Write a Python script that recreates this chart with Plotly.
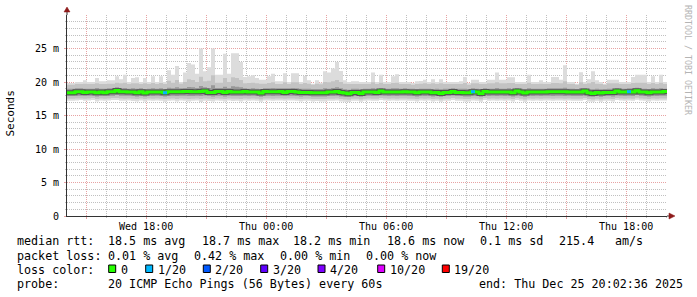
import plotly.graph_objects as go
import pandas as pd

# ---------------- data (milliseconds, one value per 12-minute column) ----------------
t_start = "2025-12-24 14:02:36"
step = "12min"

smoke_max = [
    19.85, 19.85, 20.0, 20.0, 20.25, 20.0, 20.0, 20.6, 20.1, 20.1,
    20.25, 20.25, 20.85, 20.4, 21.1, 20.0, 20.6, 20.7, 20.0, 20.6,
    20.0, 20.85, 20.0, 20.85, 20.0, 21.75, 21.1, 22.4, 20.0, 21.4,
    22.85, 22.6, 21.25, 25.0, 21.6, 22.2, 25.0, 21.1, 21.1, 24.2,
    21.25, 24.3, 24.3, 23.0, 20.75, 20.85, 21.0, 20.6, 20.35, 20.35,
    20.85, 21.25, 20.1, 20.1, 21.3, 20.0, 21.3, 21.3, 20.0, 20.9,
    20.25, 19.75, 20.25, 19.9, 21.6, 21.4, 22.0, 23.0, 21.65, 20.25,
    20.0, 20.1, 20.1, 20.0, 20.0, 20.0, 21.4, 20.0, 21.1, 20.0,
    20.0, 20.85, 21.15, 20.0, 20.0, 20.0, 19.85, 20.1, 20.15, 20.35,
    20.0, 20.4, 20.0, 20.4, 20.0, 20.0, 20.0, 20.0, 20.1, 20.75,
    19.85, 20.35, 20.35, 20.0, 20.0, 20.35, 20.35, 21.4, 20.35, 20.35,
    20.7, 20.7, 20.0, 20.0, 20.0, 21.1, 20.0, 20.0, 20.25, 20.0,
    20.0, 20.75, 20.75, 20.35, 22.5, 20.0, 20.0, 19.75, 21.45, 20.0,
    20.4, 21.6, 20.25, 20.0, 19.75, 20.35, 20.35, 20.35, 20.0, 20.0,
    20.0, 20.75, 21.1, 21.1, 21.1, 20.0, 20.85, 20.0, 21.1, 20.0,
]

smoke_p90 = [
    19.6, 19.6, 19.7, 19.7, 19.75, 19.7, 19.7, 19.8, 19.7, 19.7,
    19.75, 19.75, 19.9, 19.8, 19.9, 19.7, 19.8, 19.8, 19.7, 19.8,
    19.7, 19.85, 19.7, 19.85, 19.7, 20.2, 19.9, 20.3, 19.75, 20.0,
    20.4, 20.3, 20.0, 20.8, 20.1, 20.2, 21.0, 19.9, 19.9, 20.6,
    20.0, 20.7, 20.6, 20.3, 19.8, 19.85, 19.9, 19.8, 19.75, 19.75,
    19.85, 19.95, 19.7, 19.7, 19.95, 19.7, 19.95, 19.95, 19.7, 19.85,
    19.75, 19.6, 19.75, 19.65, 20.0, 19.95, 20.1, 20.3, 20.0, 19.75,
    19.7, 19.7, 19.7, 19.7, 19.7, 19.7, 19.95, 19.7, 19.9, 19.7,
    19.7, 19.85, 19.9, 19.7, 19.7, 19.7, 19.6, 19.7, 19.75, 19.8,
    19.7, 19.8, 19.7, 19.8, 19.7, 19.7, 19.7, 19.7, 19.7, 19.85,
    19.6, 19.8, 19.8, 19.7, 19.7, 19.8, 19.8, 19.95, 19.8, 19.8,
    19.85, 19.85, 19.7, 19.7, 19.7, 19.9, 19.7, 19.7, 19.75, 19.7,
    19.7, 19.85, 19.85, 19.8, 20.1, 19.7, 19.7, 19.6, 19.95, 19.7,
    19.8, 20.0, 19.75, 19.7, 19.6, 19.8, 19.8, 19.8, 19.7, 19.7,
    19.7, 19.85, 19.9, 19.9, 19.9, 19.7, 19.85, 19.7, 19.9, 19.7,
]

smoke_p75 = [
    19.0, 19.0, 19.05, 19.05, 19.0, 19.0, 19.0, 19.1, 19.0, 19.0,
    19.05, 19.05, 19.2, 19.05, 19.1, 19.0, 19.05, 19.0, 19.05, 18.95,
    19.0, 19.05, 19.0, 19.05, 18.95, 19.15, 19.05, 19.2, 19.05, 19.1,
    19.25, 19.2, 19.1, 19.4, 19.2, 19.1, 19.5, 19.1, 19.1, 19.3,
    19.1, 19.35, 19.3, 19.2, 19.05, 19.0, 19.05, 19.0, 18.9, 19.05,
    19.05, 19.1, 19.05, 19.05, 19.05, 19.05, 19.1, 19.05, 19.0, 19.0,
    19.0, 18.95, 18.95, 18.95, 19.05, 19.0, 19.1, 19.2, 19.05, 18.9,
    18.85, 19.0, 19.0, 18.9, 19.0, 19.0, 19.05, 19.0, 19.1, 19.0,
    19.0, 19.05, 19.05, 19.0, 19.05, 19.0, 19.0, 18.95, 19.0, 19.0,
    19.0, 18.95, 19.0, 18.9, 19.0, 19.0, 19.05, 19.0, 19.0, 19.0,
    18.95, 19.05, 19.0, 18.9, 19.05, 19.0, 19.0, 19.1, 19.0, 19.0,
    19.05, 18.95, 19.1, 19.0, 18.9, 19.05, 19.0, 19.0, 19.0, 19.0,
    19.05, 19.05, 19.05, 19.05, 19.15, 19.0, 19.0, 18.95, 19.05, 19.1,
    18.95, 18.9, 19.0, 18.9, 18.95, 19.0, 19.0, 19.1, 19.0, 19.0,
    19.05, 19.05, 19.15, 19.0, 19.0, 18.95, 19.05, 19.0, 19.05, 19.0,
]

median_rtt = [
    18.4, 18.4, 18.55, 18.55, 18.45, 18.5, 18.5, 18.4, 18.5, 18.4,
    18.55, 18.55, 18.75, 18.55, 18.55, 18.5, 18.5, 18.4, 18.55, 18.35,
    18.5, 18.5, 18.5, 18.5, 18.4, 18.55, 18.55, 18.55, 18.55, 18.6,
    18.6, 18.55, 18.55, 18.6, 18.65, 18.45, 18.45, 18.6, 18.6, 18.45,
    18.6, 18.5, 18.5, 18.5, 18.6, 18.5, 18.5, 18.5, 18.35, 18.6,
    18.55, 18.55, 18.55, 18.6, 18.45, 18.6, 18.6, 18.5, 18.45, 18.45,
    18.45, 18.4, 18.4, 18.4, 18.4, 18.5, 18.5, 18.6, 18.45, 18.35,
    18.25, 18.45, 18.45, 18.3, 18.5, 18.5, 18.5, 18.45, 18.65, 18.5,
    18.5, 18.5, 18.5, 18.5, 18.55, 18.5, 18.5, 18.4, 18.5, 18.5,
    18.5, 18.4, 18.45, 18.3, 18.45, 18.45, 18.6, 18.45, 18.45, 18.4,
    18.4, 18.55, 18.5, 18.3, 18.6, 18.5, 18.5, 18.5, 18.5, 18.5,
    18.5, 18.4, 18.65, 18.5, 18.35, 18.5, 18.5, 18.5, 18.5, 18.5,
    18.55, 18.55, 18.55, 18.55, 18.55, 18.5, 18.5, 18.5, 18.5, 18.65,
    18.4, 18.3, 18.45, 18.35, 18.45, 18.45, 18.45, 18.65, 18.5, 18.5,
    18.55, 18.5, 18.7, 18.5, 18.5, 18.4, 18.5, 18.5, 18.5, 18.6,
]

smoke_p25 = [
    17.9, 17.9, 17.95, 17.95, 17.9, 17.95, 17.95, 17.85, 17.95, 17.9,
    17.95, 17.95, 18.05, 17.95, 17.95, 17.95, 17.9, 17.85, 17.95, 17.85,
    17.95, 17.9, 17.95, 17.9, 17.85, 17.9, 17.95, 17.9, 17.95, 17.95,
    17.9, 17.9, 17.95, 17.9, 18.0, 17.9, 17.85, 17.95, 17.95, 17.85,
    17.95, 17.9, 17.9, 17.9, 17.95, 17.9, 17.95, 17.9, 17.8, 17.95,
    17.95, 17.9, 17.95, 17.95, 17.9, 17.95, 17.95, 17.9, 17.85, 17.9,
    17.9, 17.85, 17.85, 17.85, 17.85, 17.9, 17.9, 17.95, 17.85, 17.8,
    17.75, 17.9, 17.9, 17.8, 17.9, 17.95, 17.9, 17.9, 18.0, 17.95,
    17.9, 17.95, 17.9, 17.95, 17.95, 17.9, 17.9, 17.85, 17.95, 17.9,
    17.95, 17.85, 17.9, 17.8, 17.9, 17.9, 18.0, 17.9, 17.9, 17.85,
    17.85, 17.95, 17.9, 17.8, 18.0, 17.9, 17.95, 17.9, 17.95, 17.9,
    17.95, 17.85, 18.0, 17.9, 17.8, 17.95, 17.9, 17.95, 17.9, 17.95,
    17.95, 17.9, 17.95, 17.95, 17.9, 17.95, 17.9, 17.9, 17.9, 18.0,
    17.85, 17.8, 17.9, 17.8, 17.9, 17.9, 17.85, 18.0, 17.95, 17.9,
    17.95, 17.9, 18.05, 17.95, 17.9, 17.85, 17.95, 17.9, 17.95, 17.95,
]

smoke_p10 = [
    17.5, 17.5, 17.55, 17.55, 17.5, 17.55, 17.6, 17.45, 17.55, 17.5,
    17.55, 17.6, 17.6, 17.55, 17.5, 17.55, 17.5, 17.45, 17.55, 17.45,
    17.55, 17.5, 17.55, 17.5, 17.45, 17.5, 17.55, 17.45, 17.55, 17.5,
    17.45, 17.5, 17.55, 17.45, 17.55, 17.5, 17.45, 17.55, 17.5, 17.45,
    17.55, 17.5, 17.5, 17.45, 17.55, 17.5, 17.55, 17.5, 17.4, 17.55,
    17.55, 17.5, 17.55, 17.55, 17.5, 17.55, 17.55, 17.5, 17.45, 17.5,
    17.5, 17.45, 17.45, 17.45, 17.45, 17.5, 17.5, 17.55, 17.45, 17.4,
    17.35, 17.5, 17.5, 17.4, 17.5, 17.55, 17.5, 17.5, 17.6, 17.55,
    17.5, 17.55, 17.5, 17.55, 17.55, 17.5, 17.5, 17.45, 17.55, 17.5,
    17.55, 17.45, 17.5, 17.4, 17.5, 17.5, 17.6, 17.5, 17.5, 17.45,
    17.45, 17.55, 17.5, 17.4, 17.6, 17.5, 17.55, 17.5, 17.55, 17.5,
    17.55, 17.45, 17.6, 17.5, 17.4, 17.55, 17.5, 17.55, 17.5, 17.55,
    17.55, 17.5, 17.55, 17.55, 17.5, 17.55, 17.5, 17.5, 17.5, 17.6,
    17.45, 17.4, 17.5, 17.4, 17.5, 17.5, 17.45, 17.6, 17.55, 17.5,
    17.55, 17.5, 17.65, 17.55, 17.5, 17.45, 17.55, 17.5, 17.55, 17.55,
]

smoke_min = [
    17.2, 17.2, 17.25, 17.3, 17.2, 17.25, 17.3, 17.1, 17.25, 17.2,
    17.25, 17.3, 17.3, 17.2, 17.2, 17.25, 17.15, 17.1, 17.25, 17.1,
    17.25, 17.2, 17.25, 17.2, 17.05, 17.2, 17.25, 17.1, 17.25, 17.2,
    17.1, 17.2, 17.25, 17.0, 17.2, 17.15, 17.1, 17.25, 17.2, 17.1,
    17.25, 17.15, 17.2, 17.1, 17.25, 17.2, 17.25, 17.2, 17.05, 17.25,
    17.25, 17.2, 17.25, 17.25, 17.2, 17.25, 17.25, 17.2, 17.1, 17.2,
    17.2, 17.1, 17.15, 17.1, 17.1, 17.2, 17.2, 17.25, 17.1, 17.05,
    17.0, 17.2, 17.2, 17.05, 17.2, 17.25, 17.2, 17.2, 17.3, 17.25,
    17.2, 17.25, 17.2, 17.25, 17.25, 17.2, 17.2, 17.1, 17.25, 17.2,
    17.25, 17.1, 17.2, 17.05, 17.2, 17.2, 17.3, 17.2, 17.2, 17.1,
    17.1, 17.25, 17.2, 17.05, 17.3, 17.2, 17.25, 17.2, 17.25, 17.2,
    17.25, 17.1, 17.3, 17.2, 17.05, 17.25, 17.2, 17.25, 17.2, 17.25,
    17.25, 17.2, 17.25, 17.25, 17.2, 17.25, 17.2, 17.2, 17.2, 17.3,
    17.1, 17.05, 17.2, 17.05, 17.2, 17.2, 17.1, 17.3, 17.25, 17.2,
    17.25, 17.2, 17.35, 17.25, 17.2, 17.1, 17.25, 17.2, 17.25, 17.25,
]

# lost pings (out of 20) per column
loss_pings = [
    0, 0, 0, 0, 0, 0, 0, 0, 0, 0,
    0, 0, 0, 0, 0, 0, 0, 0, 0, 0,
    0, 0, 0, 0, 1, 0, 0, 0, 0, 0,
    0, 0, 0, 0, 0, 0, 0, 0, 0, 0,
    0, 0, 0, 0, 0, 0, 0, 0, 0, 0,
    0, 0, 0, 0, 0, 0, 0, 0, 0, 0,
    0, 0, 0, 0, 0, 0, 0, 0, 0, 0,
    0, 0, 0, 0, 0, 0, 0, 0, 0, 0,
    0, 0, 0, 0, 0, 0, 0, 0, 0, 0,
    0, 0, 0, 0, 0, 0, 0, 0, 0, 0,
    0, 1, 0, 0, 0, 0, 0, 0, 0, 0,
    0, 0, 0, 0, 0, 0, 0, 0, 0, 0,
    0, 0, 0, 0, 0, 0, 0, 0, 0, 0,
    0, 0, 0, 0, 0, 0, 0, 0, 0, 0,
    1, 0, 0, 0, 0, 0, 0, 0, 0, 0,
]

loss_levels = [0, 1, 2, 3, 4, 10, 19]
loss_labels = ["0", "1/20", "2/20", "3/20", "4/20", "10/20", "19/20"]
loss_colors = ["#26ff00", "#00b8ff", "#0059ff", "#5e00ff", "#7e00ff", "#dd00ff", "#ff0000"]

x_tick_times = ["2025-12-24 18:00", "2025-12-25 00:00", "2025-12-25 06:00",
                "2025-12-25 12:00", "2025-12-25 18:00"]
x_tick_labels = ["Wed 18:00", "Thu 00:00", "Thu 06:00", "Thu 12:00", "Thu 18:00"]
y_tick_vals = [0, 5, 10, 15, 20, 25]
y_tick_labels = ["0", "5 m", "10 m", "15 m", "20 m", "25 m"]

legend_rows = [
    [(16.7, "median rtt:"), (107.3, "18.5 ms avg"), (201.7, "18.7 ms max"),
     (292.3, "18.2 ms min"), (386.7, "18.6 ms now"), (479.3, "0.1 ms sd"),
     (558.3, "215.4"), (614.0, "am/s")],
    [(16.7, "packet loss:"), (107.3, "0.01 % avg"), (193.3, "0.42 % max"),
     (279.3, "0.00 % min"), (365.0, "0.00 % now")],
    [(16.7, "loss color:")],
    [(16.7, "probe:"), (107.3, "20 ICMP Echo Pings (56 Bytes) every 60s"),
     (478.3, "end: Thu Dec 25 20:02:36 2025")],
]
legend_row_y = [241.3, 255.8, 269.6, 284.0]
loss_box_x = [108.7, 145.7, 203.3, 260.7, 318.0, 377.7, 442.3]

# ---------------- geometry / style ----------------
W, H = 697, 297
ML, MR, MT, MB = 67, 30, 15, 81
PW, PH = W - ML - MR, H - MT - MB
MONO = "DejaVu Sans Mono"
MAJ = "rgba(225,140,140,0.8)"
MIN = "rgba(150,150,150,0.6)"
AXIS = "#333333"
ARROW = "#8e1b1b"


def px(x):
    return (x - ML) / PW


def py(y):
    return (MT + PH - y) / PH


edges = pd.date_range(t_start, periods=len(median_rtt) + 1, freq=step)


def stepped(v):
    return list(v) + [v[-1]]


fig = go.Figure()

bands = [(smoke_min, smoke_max, "#dcdcdc"),
         (smoke_p10, smoke_p90, "#c3c3c3"),
         (smoke_p25, smoke_p75, "#989898")]
for lo, hi, col in bands:
    fig.add_trace(go.Scatter(x=edges, y=stepped(lo), mode="lines",
                             line=dict(width=0, shape="hv"), hoverinfo="skip"))
    fig.add_trace(go.Scatter(x=edges, y=stepped(hi), mode="lines",
                             line=dict(width=0, shape="hv"), fill="tonexty",
                             fillcolor=col, hoverinfo="skip"))

# dark core + median line
fig.add_trace(go.Scatter(x=edges, y=stepped(median_rtt), mode="lines",
                         line=dict(width=5, shape="hv", color="#555555"), hoverinfo="skip"))
fig.add_trace(go.Scatter(x=edges, y=stepped(median_rtt), mode="lines",
                         line=dict(width=3, shape="hv", color=loss_colors[0]), hoverinfo="skip"))


def loss_color(n):
    c = loss_colors[0]
    for lv, col in zip(loss_levels, loss_colors):
        if n >= lv:
            c = col
    return c


for lv, col in zip(loss_levels[1:], loss_colors[1:]):
    xs, ys = [], []
    for i, n in enumerate(loss_pings):
        if n > 0 and loss_color(n) == col:
            xs += [edges[i], edges[i + 1], None]
            ys += [median_rtt[i], median_rtt[i], None]
    if xs:
        fig.add_trace(go.Scatter(x=xs, y=ys, mode="lines",
                                 line=dict(width=3, color=col), hoverinfo="skip"))

# ---------------- axes ----------------
major_x = pd.date_range("2025-12-24 15:00", "2025-12-25 18:00", freq="3h")
label_map = dict(zip(pd.to_datetime(x_tick_times), x_tick_labels))
major_text = [label_map.get(t, "") for t in major_x]
minor_x = [t for t in pd.date_range("2025-12-24 15:00", "2025-12-25 20:00", freq="1h")
           if t.hour % 3 != 0]

fig.update_xaxes(
    type="date", range=[edges[0], edges[-1]],
    tickmode="array", tickvals=list(major_x), ticktext=major_text,
    showgrid=True, gridcolor=MAJ, griddash="1px,1px", gridwidth=1,
    zeroline=False, showline=True, linecolor=AXIS, linewidth=1,
    ticks="outside", ticklen=2, tickcolor=MAJ,
    tickfont=dict(family=MONO, size=10, color="black"), ticklabelstandoff=-1,
    minor=dict(tickmode="array", tickvals=minor_x, showgrid=True, gridcolor=MIN,
               griddash="1px,1px", ticks="outside", ticklen=1, tickcolor=MIN),
    fixedrange=True,
)
fig.update_yaxes(
    range=[0, 30], tickmode="array", tickvals=y_tick_vals, ticktext=y_tick_labels,
    showgrid=True, gridcolor=MAJ, griddash="1px,1px", gridwidth=1,
    zeroline=False, showline=True, linecolor=AXIS, linewidth=1,
    ticks="outside", ticklen=2, tickcolor=MAJ,
    tickfont=dict(family=MONO, size=10, color="black"), ticklabelstandoff=3,
    minor=dict(tickmode="array", tickvals=[v for v in range(1, 30) if v % 5],
               showgrid=True, gridcolor=MIN, griddash="1px,1px",
               ticks="outside", ticklen=1, tickcolor=MIN),
    fixedrange=True,
)

shapes = [
    dict(type="line", xref="paper", yref="paper", x0=0, x1=0, y0=1, y1=py(11),
         line=dict(color=AXIS, width=1)),
    dict(type="path", xref="paper", yref="paper",
         path=f"M {px(64)},{py(12)} L {px(70)},{py(12)} L {px(67)},{py(7)} Z",
         fillcolor=ARROW, line=dict(color=ARROW, width=0.5)),
    dict(type="line", xref="paper", yref="paper", x0=1, x1=px(669), y0=0, y1=0,
         line=dict(color=AXIS, width=1)),
    dict(type="path", xref="paper", yref="paper",
         path=f"M {px(669)},{py(213)} L {px(669)},{py(219)} L {px(675)},{py(216)} Z",
         fillcolor=ARROW, line=dict(color=ARROW, width=0.5)),
]
for bx, col in zip(loss_box_x, loss_colors):
    shapes.append(dict(type="rect", xref="paper", yref="paper",
                       x0=px(bx), x1=px(bx + 7), y0=py(272.5), y1=py(265),
                       fillcolor=col, line=dict(color="black", width=1)))

annotations = [
    dict(text="Seconds", x=px(10), y=py(113.5), xref="paper", yref="paper",
         textangle=-90, showarrow=False, xanchor="center", yanchor="middle",
         font=dict(family=MONO, size=11, color="black")),
    dict(text="RRDTOOL / TOBI OETIKER", x=px(688), y=py(60), xref="paper", yref="paper",
         textangle=90, showarrow=False, xanchor="center", yanchor="middle",
         font=dict(family=MONO, size=8.3, color="#b4b4b4")),
]
for row, yv in zip(legend_rows, legend_row_y):
    for xv, txt in row:
        annotations.append(dict(text=txt.replace(" ", "&nbsp;"), x=px(xv - 1.5), y=py(yv),
                                xref="paper", yref="paper", showarrow=False,
                                xanchor="left", yanchor="middle",
                                font=dict(family=MONO, size=11.7, color="black")))
for bx, lab in zip(loss_box_x, loss_labels):
    annotations.append(dict(text=lab, x=px(bx + 10), y=py(legend_row_y[2]),
                            xref="paper", yref="paper", showarrow=False,
                            xanchor="left", yanchor="middle",
                            font=dict(family=MONO, size=11.7, color="black")))

fig.update_layout(
    width=W, height=H, margin=dict(l=ML, r=MR, t=MT, b=MB, pad=0),
    paper_bgcolor="white", plot_bgcolor="white", showlegend=False,
    font=dict(family=MONO, size=10, color="black"),
    shapes=shapes, annotations=annotations,
)

fig.write_html("out.html", config={"displayModeBar": False, "staticPlot": True})
